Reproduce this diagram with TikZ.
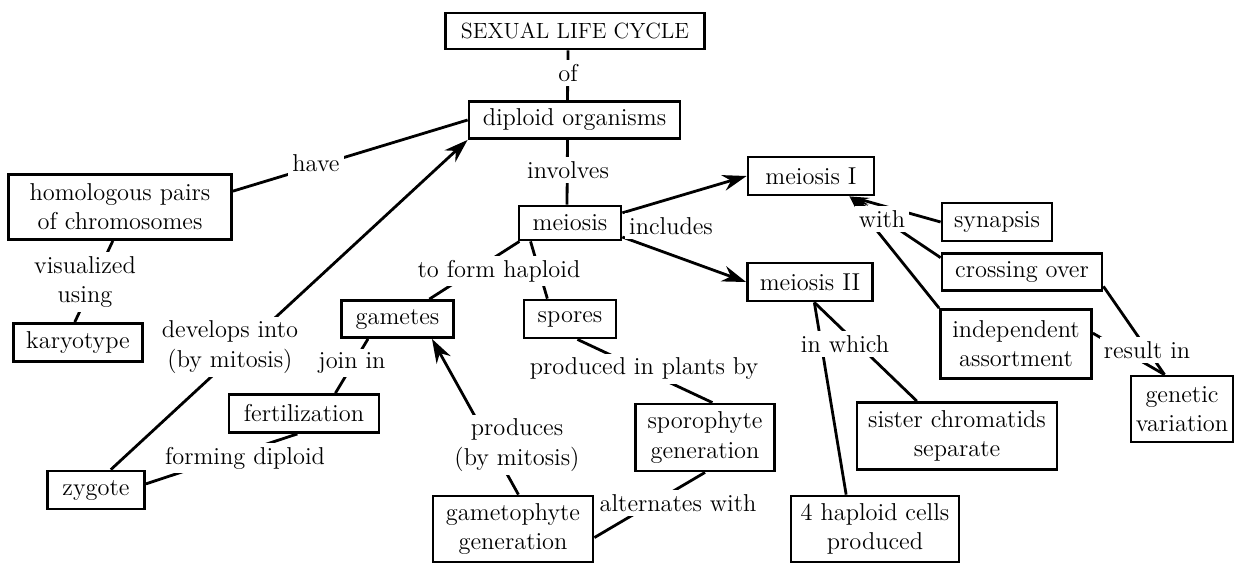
\documentclass[tikz,border=0pt]{standalone}
\usetikzlibrary{arrows.meta}

\begin{document}
\begin{tikzpicture}[x=0.5pt, y=-0.5pt,
    box/.style={draw, line width=1.4pt, fill=white, align=center, inner sep=0pt,
        font=\fontsize{12.2}{14.6}\selectfont},
    lbl/.style={fill=white, align=center, inner sep=2pt,
        font=\fontsize{12.2}{14.6}\selectfont},
    con/.style={line width=1.4pt},
    arr/.style={con, -{Stealth[length=12pt, width=8pt]}},
    arrs/.style={con, -{Stealth[length=10pt, width=4pt]}}]
        \useasboundingbox (0,0) rectangle (1234,563);

        % 方框
        \node[box, minimum width=129.5pt, minimum height=18pt, font=\fontsize{11}{13}\selectfont] (sexual) at (575,31) {SEXUAL LIFE CYCLE};
        \node[box, minimum width=105.5pt, minimum height=18.5pt] (diploid) at (574.5,120) {diploid organisms};
        \node[box, minimum width=51pt, minimum height=17pt] (meiosis) at (570,223) {meiosis};
        \node[box, minimum width=63pt, minimum height=19pt] (mI) at (811,176) {meiosis I};
        \node[box, minimum width=62.5pt, minimum height=19pt] (mII) at (810,282) {meiosis II};
        \node[box, minimum width=55pt, minimum height=19pt] (synapsis) at (997,222) {synapsis};
        \node[box, minimum width=80pt, minimum height=18.5pt] (crossing) at (1022,272) {crossing over};
        \node[box, minimum width=75.5pt, minimum height=34.5pt] (indep) at (1016,344) {independent\\assortment};
        \node[box, minimum width=51pt, minimum height=33pt] (genvar) at (1182,409) {genetic\\variation};
        \node[box, minimum width=100pt, minimum height=33.5pt] (sister) at (957,436) {sister chromatids\\separate};
        \node[box, minimum width=84pt, minimum height=33pt] (cells) at (875,529) {4 haploid cells\\produced};
        \node[box, minimum width=111.5pt, minimum height=32.5pt] (homol) at (120,207) {homologous pairs\\of chromosomes};
        \node[box, minimum width=64.5pt, minimum height=19pt] (karyo) at (78,342.5) {karyotype};
        \node[box, minimum width=48.5pt, minimum height=19pt] (zygote) at (96,490) {zygote};
        \node[box, minimum width=56pt, minimum height=18.5pt] (gametes) at (397.5,319) {gametes};
        \node[box, minimum width=46pt, minimum height=19pt] (spores) at (570,319) {spores};
        \node[box, minimum width=69.5pt, minimum height=33.5pt] (sporo) at (705,437.5) {sporophyte\\generation};
        \node[box, minimum width=80pt, minimum height=33pt] (gameto) at (513,529) {gametophyte\\generation};
        \node[box, minimum width=75pt, minimum height=19pt] (fert) at (304,413.5) {fertilization};

        % 连线
        \draw[con] ([xshift=-3.5pt]sexual.south) -- ([xshift=-3.5pt]diploid.north);
        \draw[con] ([xshift=-3.5pt]diploid.south) -- ([xshift=-1.5pt]meiosis.north);
        \draw[con] (homol.8) -- (diploid.west);
        \draw[con] (homol.258) -- (karyo.99);
        \draw[arr] (zygote.54) -- (diploid.south west);
        \draw[con] (fert.252) -- (zygote.7);
        \draw[con] (gametes.214) -- (fert.33);
        \draw[arr] (gameto.81) -- (gametes.-30);
        \draw[con] (meiosis.200) -- (gametes.32);
        \draw[con] (meiosis.205) -- (spores.138);
        \draw[con] (spores.-70) -- (sporo.78);
        \draw[con] (sporo.south) -- (gameto.-6);
        \draw[arr] (meiosis.11) -- (mI.west);
        \draw[arr] (meiosis.-15) -- (mII.west);
        \draw[arrs] (synapsis.west) -- (mI.-28);
        \draw[arrs] (crossing.170) -- (mI.-28);
        \draw[arrs] (indep.north west) -- (mI.-28);
        \draw[con] (crossing.-10) -- (genvar.117);
        \draw[con] (indep.8) -- (genvar.117);
        \draw[con] (mII.-78) -- (sister.139);
        \draw[con] (mII.-78) -- (cells.130);

        % 连线上的文字
        \node[lbl] (of) at (568,73) {of};
        \node[lbl] (involves) at (568,170) {involves};
        \node[lbl] (includes) at (671,226) {includes};
        \node[lbl] (have) at (316,163) {have};
        \node[lbl] (visual) at (85,282) {visualized\\using};
        \node[lbl] (develops) at (230,347) {develops into\\(by mitosis)};
        \node[lbl] (joinin) at (352,363) {join in};
        \node[lbl] (forming) at (245,458) {forming diploid};
        \node[lbl] (toform) at (499,271) {to form haploid};
        \node[lbl] (produced) at (644,369) {produced in plants by};
        \node[lbl] (produces) at (517,445) {produces\\(by mitosis)};
        \node[lbl] (alternates) at (678,503) {alternates with};
        \node[lbl] (with) at (882,219) {with};
        \node[lbl] (result) at (1147,350) {result in};
        \node[lbl] (inwhich) at (845,344) {in which};
    \end{tikzpicture}
\end{document}
